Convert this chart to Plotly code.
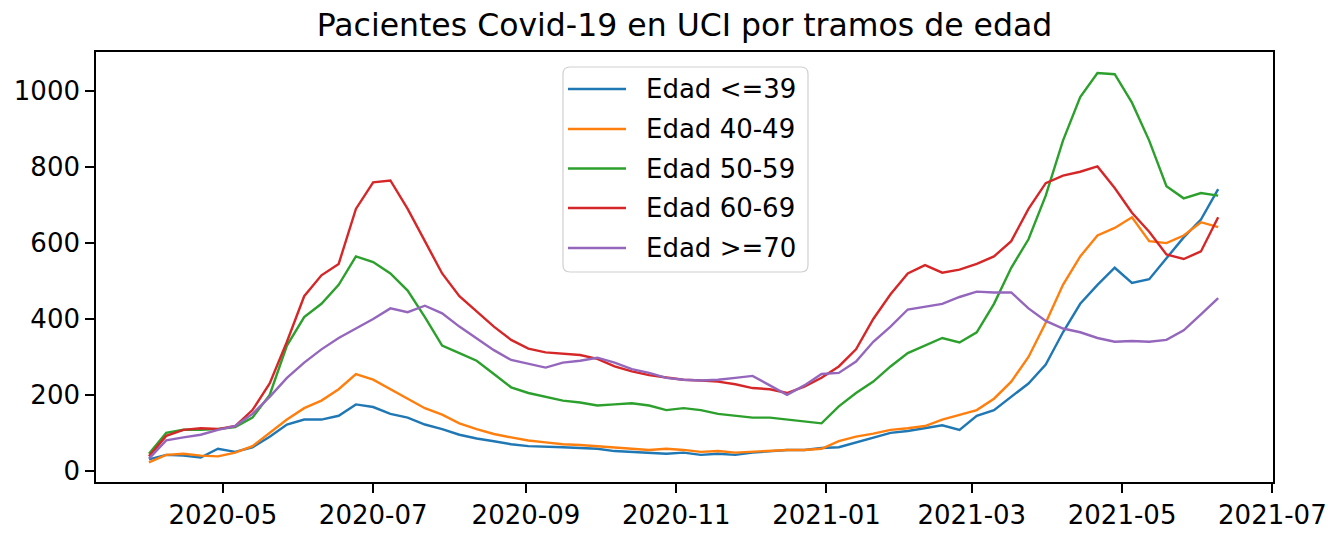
import plotly.graph_objects as go

# Weekly ICU occupancy by age band (Covid-19, Spain)
fechas = [
    "2020-04-01", "2020-04-08", "2020-04-15", "2020-04-22", "2020-04-29",
    "2020-05-06", "2020-05-13", "2020-05-20", "2020-05-27", "2020-06-03",
    "2020-06-10", "2020-06-17", "2020-06-24", "2020-07-01", "2020-07-08",
    "2020-07-15", "2020-07-22", "2020-07-29", "2020-08-05", "2020-08-12",
    "2020-08-19", "2020-08-26", "2020-09-02", "2020-09-09", "2020-09-16",
    "2020-09-23", "2020-09-30", "2020-10-07", "2020-10-14", "2020-10-21",
    "2020-10-28", "2020-11-04", "2020-11-11", "2020-11-18", "2020-11-25",
    "2020-12-02", "2020-12-09", "2020-12-16", "2020-12-23", "2020-12-30",
    "2021-01-06", "2021-01-13", "2021-01-20", "2021-01-27", "2021-02-03",
    "2021-02-10", "2021-02-17", "2021-02-24", "2021-03-03", "2021-03-10",
    "2021-03-17", "2021-03-24", "2021-03-31", "2021-04-07", "2021-04-14",
    "2021-04-21", "2021-04-28", "2021-05-05", "2021-05-12", "2021-05-19",
    "2021-05-26", "2021-06-02", "2021-06-09",
]

edad_39 = [30, 42, 40, 35, 58, 50, 62, 90, 122, 135,
           135, 145, 175, 168, 150, 140, 122, 110, 95, 85,
           78, 70, 65, 64, 62, 60, 58, 52, 50, 48,
           45, 48, 42, 45, 42, 48, 52, 55, 55, 60,
           62, 75, 88, 100, 105, 112, 120, 108, 145, 160,
           195, 230, 280, 365, 440, 490, 535, 495, 505, 560,
           615, 662, 742]

edad_40_49 = [22, 42, 45, 40, 38, 48, 65, 100, 135, 165,
              185, 215, 255, 240, 215, 190, 165, 148, 125, 110,
              97, 88, 80, 75, 70, 68, 65, 62, 58, 55,
              58, 55, 50, 52, 48, 50, 52, 55, 55, 58,
              78, 90, 98, 108, 112, 118, 135, 148, 160, 190,
              235, 300, 390, 490, 565, 620, 640, 668, 605, 600,
              620, 655, 642]

edad_50_59 = [45, 100, 108, 108, 110, 115, 140, 200, 330, 405,
              440, 490, 565, 550, 520, 475, 405, 330, 310, 290,
              255, 220, 205, 195, 185, 180, 172, 175, 178, 172,
              160, 165, 160, 150, 145, 140, 140, 135, 130, 125,
              170, 205, 235, 275, 310, 330, 350, 338, 365, 440,
              535, 610, 725, 870, 985, 1048, 1045, 970, 870, 750,
              718, 732, 725]

edad_60_69 = [38, 92, 108, 112, 110, 118, 160, 230, 340, 460,
              515, 545, 690, 760, 765, 690, 605, 520, 460, 420,
              380, 345, 322, 312, 308, 305, 295, 275, 262, 252,
              246, 240, 238, 235, 228, 218, 215, 205, 222, 245,
              275, 320, 400, 465, 520, 542, 522, 530, 545, 565,
              605, 690, 758, 778, 788, 802, 745, 680, 630, 570,
              558, 578, 668]

edad_70 = [32, 80, 88, 95, 108, 118, 150, 195, 245, 285,
           320, 350, 375, 400, 428, 418, 435, 415, 380, 350,
           318, 292, 282, 272, 285, 290, 298, 285, 268, 258,
           245, 240, 238, 240, 245, 250, 225, 200, 225, 255,
           258, 288, 340, 380, 425, 432, 440, 458, 472, 470,
           470, 428, 395, 375, 365, 350, 340, 342, 340, 345,
           370, 412, 455]

nombres = ["Edad <=39", "Edad 40-49", "Edad 50-59", "Edad 60-69", "Edad >=70"]
colores = ["#1f77b4", "#ff7f0e", "#2ca02c", "#d62728", "#9467bd"]
valores = [edad_39, edad_40_49, edad_50_59, edad_60_69, edad_70]

tick_fechas = ["2020-05-01", "2020-07-01", "2020-09-01", "2020-11-01",
               "2021-01-01", "2021-03-01", "2021-05-01", "2021-07-01"]
tick_etiquetas = ["2020-05", "2020-07", "2020-09", "2020-11",
                  "2021-01", "2021-03", "2021-05", "2021-07"]
y_ticks = [0, 200, 400, 600, 800, 1000]

titulo = "Pacientes Covid-19 en UCI por tramos de edad"

FONT = "DejaVu Sans"
W, H = 1328, 535
L, R, T, B = 96, 1273, 52, 482   # plot-area edges in pixels
LW = 2.4


def px_x(x):
    return (x - L) / (R - L)


def px_y(y):
    return (B - y) / (B - T)


fig = go.Figure()
for nombre, vals, color in zip(nombres, valores, colores):
    fig.add_trace(go.Scatter(
        x=fechas, y=vals, mode="lines", name=nombre,
        line=dict(color=color, width=LW), showlegend=False,
    ))

axis_common = dict(
    showline=True, linecolor="black", linewidth=1.6, mirror=True,
    ticks="outside", ticklen=9, tickwidth=1.6, tickcolor="black",
    showgrid=False, zeroline=False,
    tickfont=dict(family=FONT, size=26, color="black"),
)

fig.update_layout(
    width=W, height=H,
    margin=dict(l=L, r=W - R, t=T, b=H - B, autoexpand=False),
    paper_bgcolor="white", plot_bgcolor="white",
    title=dict(text=titulo, x=0.5, xref="paper", xanchor="center",
               y=1 - 25 / H, yref="container", yanchor="middle",
               font=dict(family=FONT, size=31.5, color="black")),
    xaxis=dict(type="date", range=["2020-03-10 12:00", "2021-07-01 06:00"],
               tickvals=tick_fechas, ticktext=tick_etiquetas, **axis_common),
    yaxis=dict(range=[-29.5, 1103.5], tickvals=y_ticks,
               ticktext=[str(v) for v in y_ticks], **axis_common),
    showlegend=False,
)

# Legend box (rounded frame) drawn in the upper middle of the axes
bx0, bx1, by0, by1 = 563, 808, 67, 272
rad = 7
rx, ry = rad / (R - L), rad / (B - T)
x0, x1 = px_x(bx0), px_x(bx1)
y0, y1 = px_y(by1), px_y(by0)
path = (f"M{x0 + rx},{y0} L{x1 - rx},{y0} Q{x1},{y0} {x1},{y0 + ry} "
        f"L{x1},{y1 - ry} Q{x1},{y1} {x1 - rx},{y1} "
        f"L{x0 + rx},{y1} Q{x0},{y1} {x0},{y1 - ry} "
        f"L{x0},{y0 + ry} Q{x0},{y0} {x0 + rx},{y0} Z")
fig.add_shape(type="path", path=path, xref="paper", yref="paper",
              line=dict(color="#d0d0d0", width=1.2),
              fillcolor="rgba(255,255,255,0.85)", layer="above")

filas = [89, 129, 168.5, 208, 248]
for nombre, color, fy in zip(nombres, colores, filas):
    fig.add_shape(type="line", xref="paper", yref="paper",
                  x0=px_x(568), x1=px_x(626), y0=px_y(fy), y1=px_y(fy),
                  line=dict(color=color, width=LW), layer="above")
    fig.add_annotation(text=nombre, xref="paper", yref="paper",
                       x=px_x(644), y=px_y(fy), xanchor="left", yanchor="middle",
                       showarrow=False,
                       font=dict(family=FONT, size=26, color="black"))

fig.write_html("out.html")
